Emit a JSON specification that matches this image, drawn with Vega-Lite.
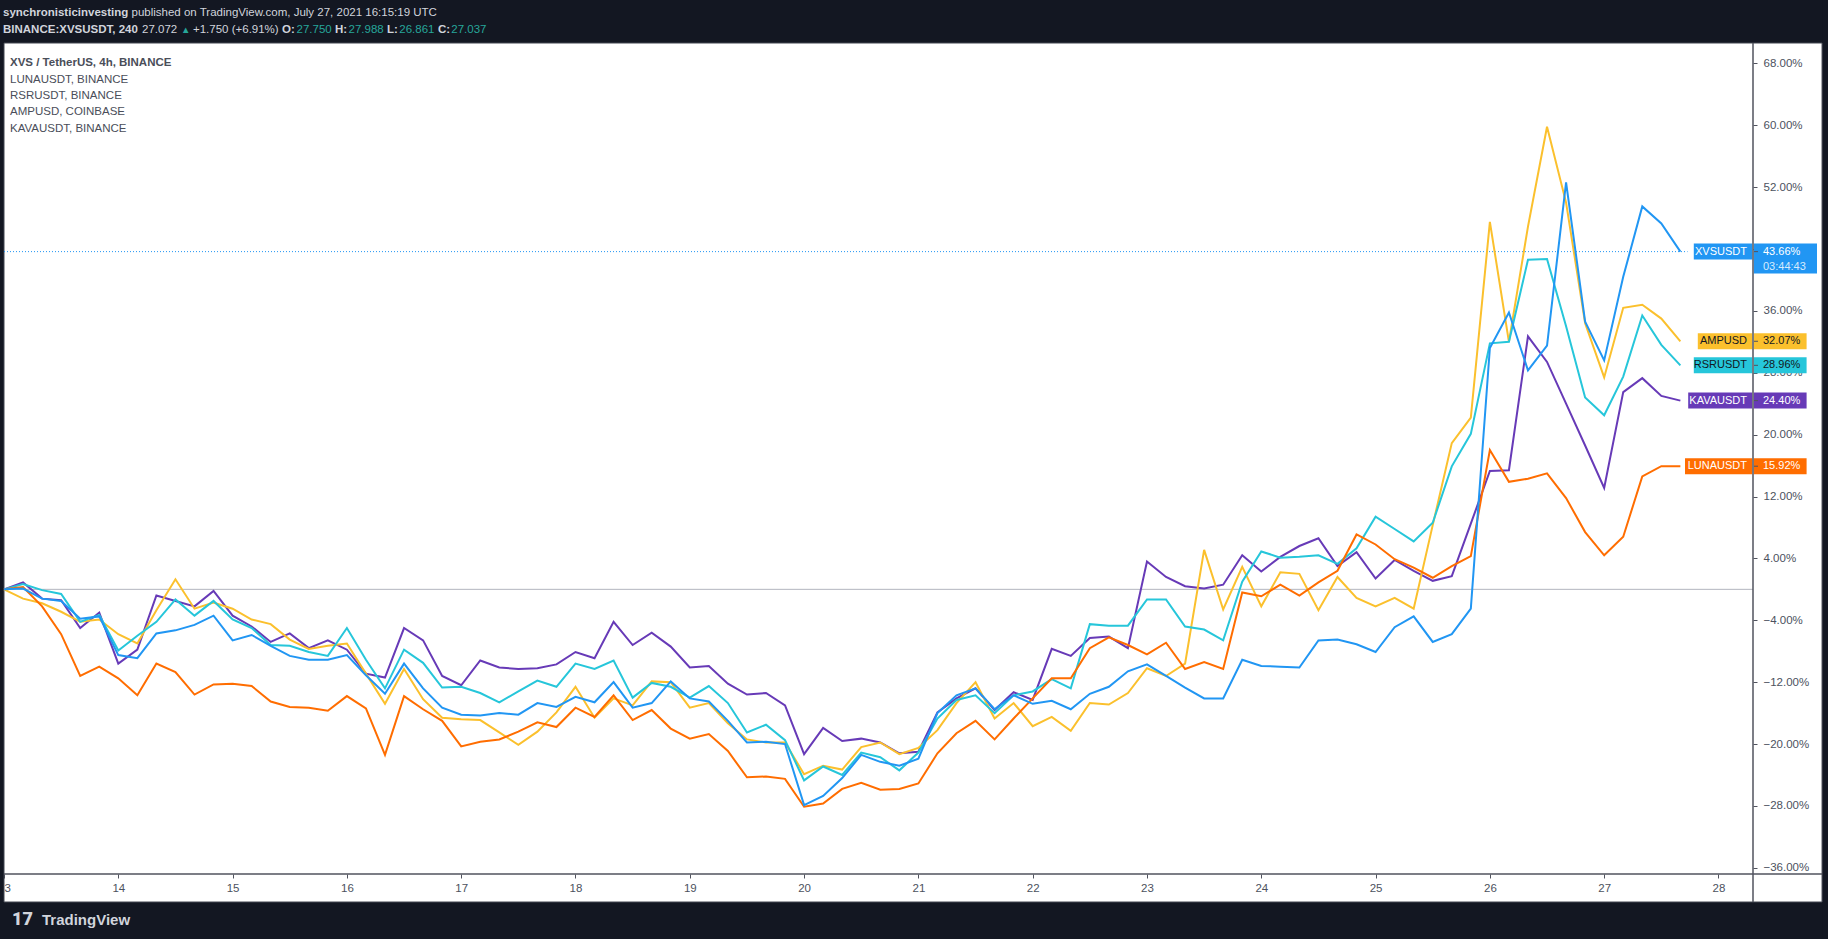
{
  "$schema": "https://vega.github.io/schema/vega-lite/v6.json",
  "width": 1749,
  "height": 831,
  "autosize": {"type": "none"},
  "padding": {"left": 4, "top": 43, "right": 75, "bottom": 65},
  "background": "#ffffff",
  "config": {
    "view": {"stroke": null},
    "font": "Liberation Sans, Arial, sans-serif",
    "text": {"font": "Liberation Sans, Arial, sans-serif"},
    "axis": {"labelFont": "Liberation Sans, Arial, sans-serif"}
  },
  "data": {
    "values": [
      {"t": "2021-07-13T00:00", "XVSUSDT": 0, "LUNAUSDT": 0, "RSRUSDT": 0, "AMPUSD": 0, "KAVAUSDT": 0},
      {"t": "2021-07-13T04:00", "XVSUSDT": 0.1, "LUNAUSDT": 0.3, "RSRUSDT": 0.7, "AMPUSD": -1.2, "KAVAUSDT": 0.9},
      {"t": "2021-07-13T08:00", "XVSUSDT": -1.2, "LUNAUSDT": -2.2, "RSRUSDT": -0.1, "AMPUSD": -1.8, "KAVAUSDT": -1.2},
      {"t": "2021-07-13T12:00", "XVSUSDT": -1.5, "LUNAUSDT": -5.8, "RSRUSDT": -0.6, "AMPUSD": -2.9, "KAVAUSDT": -1.4},
      {"t": "2021-07-13T16:00", "XVSUSDT": -3.8, "LUNAUSDT": -11.2, "RSRUSDT": -4.2, "AMPUSD": -4.2, "KAVAUSDT": -5.0},
      {"t": "2021-07-13T20:00", "XVSUSDT": -3.5, "LUNAUSDT": -10.0, "RSRUSDT": -3.3, "AMPUSD": -3.9, "KAVAUSDT": -3.0},
      {"t": "2021-07-14T00:00", "XVSUSDT": -8.5, "LUNAUSDT": -11.5, "RSRUSDT": -7.9, "AMPUSD": -5.8, "KAVAUSDT": -9.6},
      {"t": "2021-07-14T04:00", "XVSUSDT": -8.9, "LUNAUSDT": -13.7, "RSRUSDT": -6.0, "AMPUSD": -7.0, "KAVAUSDT": -7.8},
      {"t": "2021-07-14T08:00", "XVSUSDT": -5.7, "LUNAUSDT": -9.6, "RSRUSDT": -4.2, "AMPUSD": -2.7, "KAVAUSDT": -0.8},
      {"t": "2021-07-14T12:00", "XVSUSDT": -5.3, "LUNAUSDT": -10.7, "RSRUSDT": -1.3, "AMPUSD": 1.3, "KAVAUSDT": -1.5},
      {"t": "2021-07-14T16:00", "XVSUSDT": -4.6, "LUNAUSDT": -13.6, "RSRUSDT": -3.4, "AMPUSD": -2.5, "KAVAUSDT": -2.2},
      {"t": "2021-07-14T20:00", "XVSUSDT": -3.4, "LUNAUSDT": -12.3, "RSRUSDT": -1.5, "AMPUSD": -1.7, "KAVAUSDT": -0.2},
      {"t": "2021-07-15T00:00", "XVSUSDT": -6.6, "LUNAUSDT": -12.2, "RSRUSDT": -3.9, "AMPUSD": -2.5, "KAVAUSDT": -3.4},
      {"t": "2021-07-15T04:00", "XVSUSDT": -5.9, "LUNAUSDT": -12.5, "RSRUSDT": -5.0, "AMPUSD": -3.9, "KAVAUSDT": -4.8},
      {"t": "2021-07-15T08:00", "XVSUSDT": -7.3, "LUNAUSDT": -14.5, "RSRUSDT": -7.2, "AMPUSD": -4.5, "KAVAUSDT": -6.8},
      {"t": "2021-07-15T12:00", "XVSUSDT": -8.6, "LUNAUSDT": -15.2, "RSRUSDT": -7.3, "AMPUSD": -6.5, "KAVAUSDT": -5.7},
      {"t": "2021-07-15T16:00", "XVSUSDT": -9.1, "LUNAUSDT": -15.3, "RSRUSDT": -8.1, "AMPUSD": -7.7, "KAVAUSDT": -7.6},
      {"t": "2021-07-15T20:00", "XVSUSDT": -9.1, "LUNAUSDT": -15.7, "RSRUSDT": -8.6, "AMPUSD": -7.3, "KAVAUSDT": -6.6},
      {"t": "2021-07-16T00:00", "XVSUSDT": -8.5, "LUNAUSDT": -13.8, "RSRUSDT": -5.0, "AMPUSD": -7.0, "KAVAUSDT": -7.8},
      {"t": "2021-07-16T04:00", "XVSUSDT": -11.1, "LUNAUSDT": -15.4, "RSRUSDT": -9.1, "AMPUSD": -10.9, "KAVAUSDT": -10.9},
      {"t": "2021-07-16T08:00", "XVSUSDT": -13.5, "LUNAUSDT": -21.4, "RSRUSDT": -12.8, "AMPUSD": -14.8, "KAVAUSDT": -11.4},
      {"t": "2021-07-16T12:00", "XVSUSDT": -9.6, "LUNAUSDT": -13.8, "RSRUSDT": -7.8, "AMPUSD": -10.3, "KAVAUSDT": -5.0},
      {"t": "2021-07-16T16:00", "XVSUSDT": -12.8, "LUNAUSDT": -15.5, "RSRUSDT": -9.5, "AMPUSD": -14.2, "KAVAUSDT": -6.6},
      {"t": "2021-07-16T20:00", "XVSUSDT": -15.3, "LUNAUSDT": -17.0, "RSRUSDT": -12.7, "AMPUSD": -16.6, "KAVAUSDT": -11.2},
      {"t": "2021-07-17T00:00", "XVSUSDT": -16.2, "LUNAUSDT": -20.3, "RSRUSDT": -12.6, "AMPUSD": -16.8, "KAVAUSDT": -12.4},
      {"t": "2021-07-17T04:00", "XVSUSDT": -16.3, "LUNAUSDT": -19.7, "RSRUSDT": -13.4, "AMPUSD": -16.9, "KAVAUSDT": -9.2},
      {"t": "2021-07-17T08:00", "XVSUSDT": -16.0, "LUNAUSDT": -19.4, "RSRUSDT": -14.6, "AMPUSD": -18.5, "KAVAUSDT": -10.1},
      {"t": "2021-07-17T12:00", "XVSUSDT": -16.2, "LUNAUSDT": -18.4, "RSRUSDT": -13.2, "AMPUSD": -20.1, "KAVAUSDT": -10.3},
      {"t": "2021-07-17T16:00", "XVSUSDT": -14.7, "LUNAUSDT": -17.2, "RSRUSDT": -11.8, "AMPUSD": -18.4, "KAVAUSDT": -10.2},
      {"t": "2021-07-17T20:00", "XVSUSDT": -15.2, "LUNAUSDT": -17.8, "RSRUSDT": -12.6, "AMPUSD": -15.9, "KAVAUSDT": -9.7},
      {"t": "2021-07-18T00:00", "XVSUSDT": -13.9, "LUNAUSDT": -15.3, "RSRUSDT": -9.6, "AMPUSD": -12.6, "KAVAUSDT": -8.1},
      {"t": "2021-07-18T04:00", "XVSUSDT": -14.6, "LUNAUSDT": -16.5, "RSRUSDT": -10.3, "AMPUSD": -16.6, "KAVAUSDT": -8.9},
      {"t": "2021-07-18T08:00", "XVSUSDT": -12.0, "LUNAUSDT": -13.7, "RSRUSDT": -9.2, "AMPUSD": -14.1, "KAVAUSDT": -4.2},
      {"t": "2021-07-18T12:00", "XVSUSDT": -15.3, "LUNAUSDT": -16.9, "RSRUSDT": -14.0, "AMPUSD": -15.0, "KAVAUSDT": -7.2},
      {"t": "2021-07-18T16:00", "XVSUSDT": -14.7, "LUNAUSDT": -15.6, "RSRUSDT": -12.1, "AMPUSD": -11.9, "KAVAUSDT": -5.6},
      {"t": "2021-07-18T20:00", "XVSUSDT": -11.9, "LUNAUSDT": -18.0, "RSRUSDT": -12.6, "AMPUSD": -12.0, "KAVAUSDT": -7.4},
      {"t": "2021-07-19T00:00", "XVSUSDT": -14.1, "LUNAUSDT": -19.3, "RSRUSDT": -14.0, "AMPUSD": -15.3, "KAVAUSDT": -10.1},
      {"t": "2021-07-19T04:00", "XVSUSDT": -14.5, "LUNAUSDT": -18.7, "RSRUSDT": -12.5, "AMPUSD": -14.7, "KAVAUSDT": -9.9},
      {"t": "2021-07-19T08:00", "XVSUSDT": -17.0, "LUNAUSDT": -20.9, "RSRUSDT": -14.7, "AMPUSD": -17.3, "KAVAUSDT": -12.2},
      {"t": "2021-07-19T12:00", "XVSUSDT": -19.8, "LUNAUSDT": -24.3, "RSRUSDT": -18.5, "AMPUSD": -19.4, "KAVAUSDT": -13.6},
      {"t": "2021-07-19T16:00", "XVSUSDT": -19.7, "LUNAUSDT": -24.2, "RSRUSDT": -17.5, "AMPUSD": -19.8, "KAVAUSDT": -13.4},
      {"t": "2021-07-19T20:00", "XVSUSDT": -20.0, "LUNAUSDT": -24.5, "RSRUSDT": -19.5, "AMPUSD": -19.8, "KAVAUSDT": -15.0},
      {"t": "2021-07-20T00:00", "XVSUSDT": -27.9, "LUNAUSDT": -28.1, "RSRUSDT": -24.7, "AMPUSD": -23.9, "KAVAUSDT": -21.3},
      {"t": "2021-07-20T04:00", "XVSUSDT": -26.7, "LUNAUSDT": -27.7, "RSRUSDT": -22.9, "AMPUSD": -22.8, "KAVAUSDT": -17.9},
      {"t": "2021-07-20T08:00", "XVSUSDT": -24.4, "LUNAUSDT": -25.8, "RSRUSDT": -24.0, "AMPUSD": -23.3, "KAVAUSDT": -19.6},
      {"t": "2021-07-20T12:00", "XVSUSDT": -21.4, "LUNAUSDT": -25.0, "RSRUSDT": -21.1, "AMPUSD": -20.4, "KAVAUSDT": -19.3},
      {"t": "2021-07-20T16:00", "XVSUSDT": -22.3, "LUNAUSDT": -25.9, "RSRUSDT": -21.7, "AMPUSD": -19.8, "KAVAUSDT": -19.8},
      {"t": "2021-07-20T20:00", "XVSUSDT": -22.8, "LUNAUSDT": -25.8, "RSRUSDT": -23.4, "AMPUSD": -21.3, "KAVAUSDT": -21.2},
      {"t": "2021-07-21T00:00", "XVSUSDT": -21.9, "LUNAUSDT": -25.1, "RSRUSDT": -21.1, "AMPUSD": -20.5, "KAVAUSDT": -21.0},
      {"t": "2021-07-21T04:00", "XVSUSDT": -16.0, "LUNAUSDT": -21.2, "RSRUSDT": -16.7, "AMPUSD": -18.2, "KAVAUSDT": -15.9},
      {"t": "2021-07-21T08:00", "XVSUSDT": -13.7, "LUNAUSDT": -18.6, "RSRUSDT": -14.3, "AMPUSD": -14.7, "KAVAUSDT": -14.1},
      {"t": "2021-07-21T12:00", "XVSUSDT": -12.8, "LUNAUSDT": -17.0, "RSRUSDT": -13.7, "AMPUSD": -12.0, "KAVAUSDT": -12.8},
      {"t": "2021-07-21T16:00", "XVSUSDT": -15.5, "LUNAUSDT": -19.4, "RSRUSDT": -16.0, "AMPUSD": -16.7, "KAVAUSDT": -15.6},
      {"t": "2021-07-21T20:00", "XVSUSDT": -13.7, "LUNAUSDT": -16.7, "RSRUSDT": -13.7, "AMPUSD": -14.7, "KAVAUSDT": -13.3},
      {"t": "2021-07-22T00:00", "XVSUSDT": -14.8, "LUNAUSDT": -14.1, "RSRUSDT": -13.2, "AMPUSD": -17.7, "KAVAUSDT": -14.3},
      {"t": "2021-07-22T04:00", "XVSUSDT": -14.4, "LUNAUSDT": -11.5, "RSRUSDT": -11.6, "AMPUSD": -16.5, "KAVAUSDT": -7.7},
      {"t": "2021-07-22T08:00", "XVSUSDT": -15.5, "LUNAUSDT": -11.5, "RSRUSDT": -12.8, "AMPUSD": -18.3, "KAVAUSDT": -8.6},
      {"t": "2021-07-22T12:00", "XVSUSDT": -13.5, "LUNAUSDT": -7.6, "RSRUSDT": -4.5, "AMPUSD": -14.7, "KAVAUSDT": -6.3},
      {"t": "2021-07-22T16:00", "XVSUSDT": -12.6, "LUNAUSDT": -6.2, "RSRUSDT": -4.7, "AMPUSD": -14.9, "KAVAUSDT": -6.1},
      {"t": "2021-07-22T20:00", "XVSUSDT": -10.6, "LUNAUSDT": -7.2, "RSRUSDT": -4.7, "AMPUSD": -13.4, "KAVAUSDT": -7.6},
      {"t": "2021-07-23T00:00", "XVSUSDT": -9.7, "LUNAUSDT": -8.4, "RSRUSDT": -1.3, "AMPUSD": -10.2, "KAVAUSDT": 3.6},
      {"t": "2021-07-23T04:00", "XVSUSDT": -11.2, "LUNAUSDT": -6.9, "RSRUSDT": -1.3, "AMPUSD": -11.2, "KAVAUSDT": 1.6},
      {"t": "2021-07-23T08:00", "XVSUSDT": -12.7, "LUNAUSDT": -10.3, "RSRUSDT": -4.8, "AMPUSD": -9.6, "KAVAUSDT": 0.4},
      {"t": "2021-07-23T12:00", "XVSUSDT": -14.1, "LUNAUSDT": -9.4, "RSRUSDT": -5.2, "AMPUSD": 5.1, "KAVAUSDT": 0.1},
      {"t": "2021-07-23T16:00", "XVSUSDT": -14.1, "LUNAUSDT": -10.3, "RSRUSDT": -6.6, "AMPUSD": -2.6, "KAVAUSDT": 0.6},
      {"t": "2021-07-23T20:00", "XVSUSDT": -9.1, "LUNAUSDT": -0.4, "RSRUSDT": 1.0, "AMPUSD": 2.9, "KAVAUSDT": 4.4},
      {"t": "2021-07-24T00:00", "XVSUSDT": -9.9, "LUNAUSDT": -0.9, "RSRUSDT": 4.9, "AMPUSD": -2.2, "KAVAUSDT": 2.3},
      {"t": "2021-07-24T04:00", "XVSUSDT": -10.0, "LUNAUSDT": 0.6, "RSRUSDT": 4.1, "AMPUSD": 2.2, "KAVAUSDT": 4.2},
      {"t": "2021-07-24T08:00", "XVSUSDT": -10.1, "LUNAUSDT": -0.8, "RSRUSDT": 4.2, "AMPUSD": 2.0, "KAVAUSDT": 5.6},
      {"t": "2021-07-24T12:00", "XVSUSDT": -6.6, "LUNAUSDT": 0.9, "RSRUSDT": 4.4, "AMPUSD": -2.7, "KAVAUSDT": 6.6},
      {"t": "2021-07-24T16:00", "XVSUSDT": -6.5, "LUNAUSDT": 2.4, "RSRUSDT": 3.3, "AMPUSD": 1.6, "KAVAUSDT": 3.0},
      {"t": "2021-07-24T20:00", "XVSUSDT": -7.1, "LUNAUSDT": 7.1, "RSRUSDT": 5.3, "AMPUSD": -1.1, "KAVAUSDT": 4.8},
      {"t": "2021-07-25T00:00", "XVSUSDT": -8.1, "LUNAUSDT": 5.8, "RSRUSDT": 9.4, "AMPUSD": -2.2, "KAVAUSDT": 1.4},
      {"t": "2021-07-25T04:00", "XVSUSDT": -4.9, "LUNAUSDT": 3.9, "RSRUSDT": 7.8, "AMPUSD": -1.1, "KAVAUSDT": 3.8},
      {"t": "2021-07-25T08:00", "XVSUSDT": -3.5, "LUNAUSDT": 2.8, "RSRUSDT": 6.2, "AMPUSD": -2.5, "KAVAUSDT": 2.4},
      {"t": "2021-07-25T12:00", "XVSUSDT": -6.8, "LUNAUSDT": 1.5, "RSRUSDT": 8.6, "AMPUSD": 8.3, "KAVAUSDT": 1.1},
      {"t": "2021-07-25T16:00", "XVSUSDT": -5.8, "LUNAUSDT": 3.0, "RSRUSDT": 15.9, "AMPUSD": 18.9, "KAVAUSDT": 1.7},
      {"t": "2021-07-25T20:00", "XVSUSDT": -2.5, "LUNAUSDT": 4.3, "RSRUSDT": 20.1, "AMPUSD": 22.2, "KAVAUSDT": 8.5},
      {"t": "2021-07-26T00:00", "XVSUSDT": 31.2, "LUNAUSDT": 18.0, "RSRUSDT": 31.8, "AMPUSD": 47.5, "KAVAUSDT": 15.3},
      {"t": "2021-07-26T04:00", "XVSUSDT": 35.8, "LUNAUSDT": 13.9, "RSRUSDT": 32.0, "AMPUSD": 32.0, "KAVAUSDT": 15.4},
      {"t": "2021-07-26T08:00", "XVSUSDT": 28.3, "LUNAUSDT": 14.3, "RSRUSDT": 42.6, "AMPUSD": 46.9, "KAVAUSDT": 32.7},
      {"t": "2021-07-26T12:00", "XVSUSDT": 31.5, "LUNAUSDT": 15.0, "RSRUSDT": 42.7, "AMPUSD": 59.8, "KAVAUSDT": 29.4},
      {"t": "2021-07-26T16:00", "XVSUSDT": 52.6, "LUNAUSDT": 11.8, "RSRUSDT": 34.0, "AMPUSD": 50.0, "KAVAUSDT": 24.0},
      {"t": "2021-07-26T20:00", "XVSUSDT": 34.6, "LUNAUSDT": 7.4, "RSRUSDT": 24.8, "AMPUSD": 34.4, "KAVAUSDT": 18.6},
      {"t": "2021-07-27T00:00", "XVSUSDT": 29.6, "LUNAUSDT": 4.4, "RSRUSDT": 22.5, "AMPUSD": 27.4, "KAVAUSDT": 13.1},
      {"t": "2021-07-27T04:00", "XVSUSDT": 40.4, "LUNAUSDT": 6.8, "RSRUSDT": 27.5, "AMPUSD": 36.4, "KAVAUSDT": 25.5},
      {"t": "2021-07-27T08:00", "XVSUSDT": 49.5, "LUNAUSDT": 14.6, "RSRUSDT": 35.4, "AMPUSD": 36.8, "KAVAUSDT": 27.3},
      {"t": "2021-07-27T12:00", "XVSUSDT": 47.3, "LUNAUSDT": 15.92, "RSRUSDT": 31.6, "AMPUSD": 35.0, "KAVAUSDT": 25.0},
      {"t": "2021-07-27T16:00", "XVSUSDT": 43.66, "LUNAUSDT": 15.92, "RSRUSDT": 28.96, "AMPUSD": 32.07, "KAVAUSDT": 24.4}
    ]
  },
  "layer": [
    {
      "data": {"values": [{}]},
      "mark": {"type": "rect", "fill": "#131722"},
      "encoding": {
        "x": {"datum": {"year": 2021, "month": 7, "date": 12, "hours": 12}, "type": "temporal"},
        "x2": {"datum": {"year": 2021, "month": 7, "date": 29, "hours": 12}},
        "y": {"datum": 70.63},
        "y2": {"datum": 82}
      }
    },
    {
      "data": {"values": [{}]},
      "mark": {"type": "rect", "fill": "#131722"},
      "encoding": {
        "x": {"datum": {"year": 2021, "month": 7, "date": 12, "hours": 12}, "type": "temporal"},
        "x2": {"datum": {"year": 2021, "month": 7, "date": 29, "hours": 12}},
        "y": {"datum": -40.42},
        "y2": {"datum": -50}
      }
    },
    {
      "data": {"values": [{}]},
      "mark": {"type": "rect", "fill": "#131722"},
      "encoding": {
        "x": {"datum": {"year": 2021, "month": 7, "date": 12, "hours": 12}, "type": "temporal"},
        "x2": {"datum": {"year": 2021, "month": 7, "date": 13}},
        "y": {"datum": -50},
        "y2": {"datum": 82}
      }
    },
    {
      "data": {"values": [{}]},
      "mark": {"type": "rect", "fill": "#131722"},
      "encoding": {
        "x": {"datum": {"year": 2021, "month": 7, "date": 28, "hours": 21, "minutes": 45}, "type": "temporal"},
        "x2": {"datum": {"year": 2021, "month": 7, "date": 29, "hours": 12}},
        "y": {"datum": -50},
        "y2": {"datum": 82}
      }
    },
    {
      "data": {"values": [{}]},
      "mark": {"type": "rect", "fillOpacity": 0, "stroke": "#434651", "strokeWidth": 1},
      "encoding": {
        "x": {"datum": {"year": 2021, "month": 7, "date": 13}, "type": "temporal"},
        "x2": {"datum": {"year": 2021, "month": 7, "date": 28, "hours": 21, "minutes": 45}},
        "y": {"datum": 70.63},
        "y2": {"datum": -40.42}
      }
    },
    {
      "data": {"values": [{}]},
      "mark": {"type": "rule", "color": "#b2b5be", "strokeWidth": 1},
      "encoding": {
        "x": {"datum": {"year": 2021, "month": 7, "date": 13}, "type": "temporal"},
        "x2": {"datum": {"year": 2021, "month": 7, "date": 28, "hours": 7, "minutes": 15}},
        "y": {"datum": 0}
      }
    },
    {
      "data": {"values": [{}]},
      "mark": {"type": "rule", "color": "#2196f3", "strokeWidth": 1, "strokeDash": [1, 2]},
      "encoding": {
        "x": {"datum": {"year": 2021, "month": 7, "date": 13}, "type": "temporal"},
        "x2": {"datum": {"year": 2021, "month": 7, "date": 27, "hours": 17, "minutes": 30}},
        "y": {"datum": 43.66}
      }
    },
    {
      "transform": [
        {"fold": ["KAVAUSDT", "AMPUSD", "RSRUSDT", "LUNAUSDT", "XVSUSDT"], "as": ["symbol", "value"]}
      ],
      "mark": {"type": "line", "strokeWidth": 2},
      "encoding": {
        "x": {
          "field": "t",
          "type": "temporal",
          "scale": {
            "domain": [
              {"year": 2021, "month": 7, "date": 13},
              {"year": 2021, "month": 7, "date": 28, "hours": 7, "minutes": 15}
            ]
          },
          "axis": {
            "orient": "bottom",
            "title": null,
            "format": "%-d",
            "tickCount": {"interval": "day", "step": 1},
            "domain": false,
            "grid": false,
            "tickSize": 4,
            "tickColor": "#50535e",
            "labelColor": "#4c525e",
            "labelFontSize": 11.5,
            "labelPadding": 4,
            "labelFlush": false,
            "labelOverlap": false
          }
        },
        "y": {
          "field": "value",
          "type": "quantitative",
          "scale": {"domain": [-36.8, 70.63], "nice": false, "zero": false},
          "axis": {
            "orient": "right",
            "title": null,
            "values": [-36, -32, -28, -24, -20, -16, -12, -8, -4, 0, 4, 8, 12, 16, 20, 24, 28, 32, 36, 40, 44, 48, 52, 56, 60, 64, 68],
            "labelExpr": "format(datum.value, '.2f') + '%'",
            "domain": false,
            "grid": false,
            "tickSize": 4,
            "tickColor": "#50535e",
            "labelColor": "#4c525e",
            "labelFontSize": 11.5,
            "labelPadding": 6,
            "labelFlush": false,
            "labelOverlap": false
          }
        },
        "stroke": {
          "field": "symbol",
          "type": "nominal",
          "scale": {
            "domain": ["XVSUSDT", "LUNAUSDT", "RSRUSDT", "AMPUSD", "KAVAUSDT"],
            "range": ["#2196f3", "#ff6d00", "#26c6da", "#fbc02d", "#673ab7"]
          },
          "legend": null
        }
      }
    },
    {
      "transform": [
        {"fold": ["KAVAUSDT", "AMPUSD", "RSRUSDT", "LUNAUSDT", "XVSUSDT"], "as": ["symbol", "value"]},
        {"filter": {"field": "t", "equal": {"year": 2021, "month": 7, "date": 27, "hours": 16}}},
        {"calculate": "format(datum.value, '.2f') + '%'", "as": "label"}
      ],
      "layer": [
        {
          "mark": {"type": "point", "filled": true, "size": 256, "opacity": 1, "strokeWidth": 0},
          "encoding": {
            "x": {"datum": {"year": 2021, "month": 7, "date": 28, "hours": 7, "minutes": 15}, "type": "temporal"},
            "y": {"field": "value", "type": "quantitative"},
            "shape": {
              "condition": [
                {"test": "datum.symbol === 'AMPUSD'", "value": "M-6.9,-1H-0.1V1H-6.9Z"},
                {"test": "datum.symbol === 'KAVAUSDT'", "value": "M-8.1,-1H-0.1V1H-8.1Z"},
                {"test": "datum.symbol === 'LUNAUSDT'", "value": "M-8.5,-1H-0.1V1H-8.5Z"}
              ],
              "value": "M-7.4,-1H-0.1V1H-7.4Z"
            },
            "fill": {"field": "symbol", "type": "nominal", "scale": {"domain": ["XVSUSDT", "LUNAUSDT", "RSRUSDT", "AMPUSD", "KAVAUSDT"], "range": ["#2196f3", "#ff6d00", "#26c6da", "#fbc02d", "#673ab7"]}, "legend": null}
          }
        },
        {
          "mark": {"type": "point", "filled": true, "size": 256, "opacity": 1, "strokeWidth": 0},
          "encoding": {
            "x": {"datum": {"year": 2021, "month": 7, "date": 28, "hours": 7, "minutes": 15}, "type": "temporal"},
            "y": {"field": "value", "type": "quantitative"},
            "shape": {
              "condition": {"test": "datum.symbol === 'XVSUSDT'", "value": "M0.1,-1H8V2.75H0.1Z"},
              "value": "M0.1,-1H6.7V1H0.1Z"
            },
            "fill": {"field": "symbol", "type": "nominal", "legend": null}
          }
        },
        {
          "mark": {"type": "tick", "orient": "horizontal", "size": 4, "thickness": 1, "color": "#50535e", "opacity": 1, "xOffset": 3},
          "encoding": {
            "x": {"datum": {"year": 2021, "month": 7, "date": 28, "hours": 7, "minutes": 15}, "type": "temporal"},
            "y": {"field": "value", "type": "quantitative"}
          }
        },
        {
          "mark": {"type": "text", "align": "right", "baseline": "middle", "dx": -6, "fontSize": 11},
          "encoding": {
            "x": {"datum": {"year": 2021, "month": 7, "date": 28, "hours": 7, "minutes": 15}, "type": "temporal"},
            "y": {"field": "value", "type": "quantitative"},
            "text": {"field": "symbol"},
            "color": {"condition": {"test": "datum.symbol === 'AMPUSD' || datum.symbol === 'RSRUSDT'", "value": "#131722"}, "value": "#ffffff"}
          }
        },
        {
          "mark": {"type": "text", "align": "left", "baseline": "middle", "dx": 10, "fontSize": 11},
          "encoding": {
            "x": {"datum": {"year": 2021, "month": 7, "date": 28, "hours": 7, "minutes": 15}, "type": "temporal"},
            "y": {"field": "value", "type": "quantitative"},
            "text": {"field": "label"},
            "color": {"condition": {"test": "datum.symbol === 'AMPUSD' || datum.symbol === 'RSRUSDT'", "value": "#131722"}, "value": "#ffffff"}
          }
        }
      ]
    },
    {
      "data": {"values": [{}]},
      "mark": {"type": "text", "text": "03:44:43", "align": "left", "baseline": "middle", "dx": 10, "dy": 15, "fontSize": 11, "color": "#d6ebfd"},
      "encoding": {
        "x": {"datum": {"year": 2021, "month": 7, "date": 28, "hours": 7, "minutes": 15}, "type": "temporal"},
        "y": {"datum": 43.66}
      }
    },
    {
      "data": {"values": [{}]},
      "mark": {"type": "rule", "color": "#50535e", "strokeWidth": 1.5},
      "encoding": {
        "x": {"datum": {"year": 2021, "month": 7, "date": 13}, "type": "temporal"},
        "x2": {"datum": {"year": 2021, "month": 7, "date": 28, "hours": 21, "minutes": 45}},
        "y": {"datum": -36.8}
      }
    },
    {
      "data": {"values": [{}]},
      "mark": {"type": "rule", "color": "#50535e", "strokeWidth": 1.5},
      "encoding": {
        "x": {"datum": {"year": 2021, "month": 7, "date": 28, "hours": 7, "minutes": 15}, "type": "temporal"},
        "y": {"datum": 70.63},
        "y2": {"datum": -40.42}
      }
    },
    {
      "data": {"values": [{}]},
      "encoding": {
        "x": {"datum": {"year": 2021, "month": 7, "date": 13}, "type": "temporal"},
        "y": {"datum": 68.1}
      },
      "layer": [
        {"mark": {"type": "text", "text": "XVS / TetherUS, 4h, BINANCE", "align": "left", "baseline": "middle", "dx": 6, "fontSize": 11.5, "fontWeight": "bold", "color": "#4a4e59"}},
        {"mark": {"type": "text", "text": ["LUNAUSDT, BINANCE", "RSRUSDT, BINANCE", "AMPUSD, COINBASE", "KAVAUSDT, BINANCE"], "align": "left", "baseline": "top", "dx": 6, "dy": 11, "lineHeight": 16.4, "fontSize": 11.5, "color": "#4a4e59"}}
      ]
    },
    {
      "data": {"values": [{}]},
      "encoding": {
        "x": {"datum": {"year": 2021, "month": 7, "date": 13}, "type": "temporal"},
        "y": {"datum": 74.5}
      },
      "layer": [
        {"mark": {"type": "text", "text": "synchronisticinvesting", "align": "left", "baseline": "middle", "dx": -1, "fontSize": 11.5, "fontWeight": "bold", "color": "#d1d4dc"}},
        {"mark": {"type": "text", "text": "published on TradingView.com, July 27, 2021 16:15:19 UTC", "align": "left", "baseline": "middle", "dx": 127.5, "fontSize": 11.5, "color": "#d1d4dc"}},
        {"mark": {"type": "text", "text": "BINANCE:XVSUSDT, 240", "align": "left", "baseline": "middle", "dx": -1, "dy": 17, "fontSize": 11.5, "fontWeight": "bold", "color": "#d1d4dc"}},
        {"mark": {"type": "text", "text": "27.072", "align": "left", "baseline": "middle", "dx": 138, "dy": 17, "fontSize": 11.5, "color": "#d1d4dc"}},
        {"mark": {"type": "text", "text": "▲", "align": "left", "baseline": "middle", "dx": 177, "dy": 17, "fontSize": 9.5, "color": "#26a69a"}},
        {"mark": {"type": "text", "text": "+1.750 (+6.91%)", "align": "left", "baseline": "middle", "dx": 189, "dy": 17, "fontSize": 11.5, "color": "#d1d4dc"}},
        {"mark": {"type": "text", "text": "O:", "align": "left", "baseline": "middle", "dx": 278, "dy": 17, "fontSize": 11.5, "fontWeight": "bold", "color": "#d1d4dc"}},
        {"mark": {"type": "text", "text": "27.750", "align": "left", "baseline": "middle", "dx": 292.5, "dy": 17, "fontSize": 11.5, "color": "#26a69a"}},
        {"mark": {"type": "text", "text": "H:", "align": "left", "baseline": "middle", "dx": 331, "dy": 17, "fontSize": 11.5, "fontWeight": "bold", "color": "#d1d4dc"}},
        {"mark": {"type": "text", "text": "27.988", "align": "left", "baseline": "middle", "dx": 344.5, "dy": 17, "fontSize": 11.5, "color": "#26a69a"}},
        {"mark": {"type": "text", "text": "L:", "align": "left", "baseline": "middle", "dx": 383, "dy": 17, "fontSize": 11.5, "fontWeight": "bold", "color": "#d1d4dc"}},
        {"mark": {"type": "text", "text": "26.861", "align": "left", "baseline": "middle", "dx": 395.3, "dy": 17, "fontSize": 11.5, "color": "#26a69a"}},
        {"mark": {"type": "text", "text": "C:", "align": "left", "baseline": "middle", "dx": 434, "dy": 17, "fontSize": 11.5, "fontWeight": "bold", "color": "#d1d4dc"}},
        {"mark": {"type": "text", "text": "27.037", "align": "left", "baseline": "middle", "dx": 447.3, "dy": 17, "fontSize": 11.5, "color": "#26a69a"}}
      ]
    },
    {
      "data": {"values": [{}]},
      "encoding": {
        "x": {"datum": {"year": 2021, "month": 7, "date": 13}, "type": "temporal"},
        "y": {"datum": -42.74}
      },
      "layer": [
        {"mark": {"type": "text", "text": "17", "align": "left", "baseline": "middle", "dx": 8, "fontSize": 18, "fontWeight": 900, "font": "Roboto", "color": "#d1d4dc"}},
        {"mark": {"type": "text", "text": "TradingView", "align": "left", "baseline": "middle", "dx": 38, "fontSize": 15, "fontWeight": "bold", "color": "#d1d4dc"}}
      ]
    }
  ]
}
